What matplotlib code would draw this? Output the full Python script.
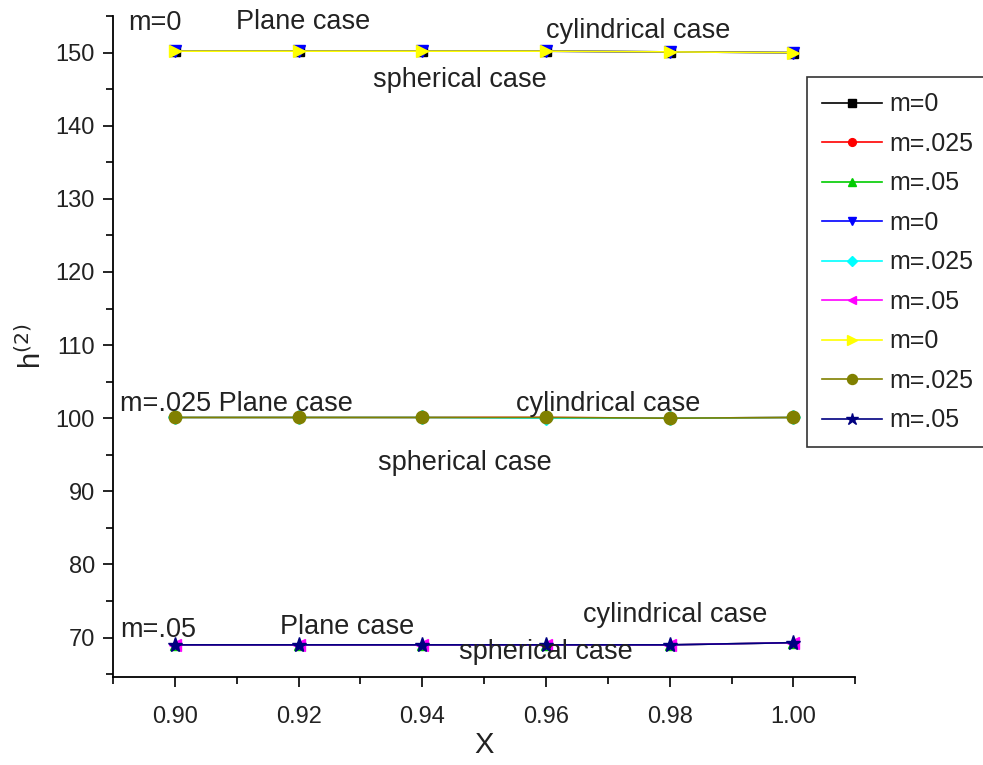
import matplotlib.pyplot as plt
from matplotlib.ticker import MultipleLocator

plt.rcParams['font.family'] = ['Liberation Sans', 'DejaVu Sans']

# --- data ---
x = [0.90, 0.92, 0.94, 0.96, 0.98, 1.00]

# plane case
plane_m0 = [150.2, 150.2, 150.2, 150.2, 150.1, 150.0]
plane_m025 = [100.1, 100.1, 100.1, 100.1, 100.0, 100.1]
plane_m05 = [69.0, 69.0, 69.0, 69.0, 69.0, 69.3]
# cylindrical case
cyl_m0 = [150.2, 150.2, 150.2, 150.2, 150.1, 150.0]
cyl_m025 = [100.1, 100.1, 100.1, 100.0, 100.0, 100.1]
cyl_m05 = [69.0, 69.0, 69.0, 69.0, 69.0, 69.3]
# spherical case
sph_m0 = [150.2, 150.2, 150.2, 150.2, 150.1, 150.0]
sph_m025 = [100.1, 100.1, 100.1, 100.1, 100.0, 100.1]
sph_m05 = [69.0, 69.0, 69.0, 69.0, 69.0, 69.3]

series = [
    (plane_m0, 'black', 's', 'm=0', 7),
    (plane_m025, 'red', 'o', 'm=.025', 7),
    (plane_m05, '#00cc00', '^', 'm=.05', 7),
    (cyl_m0, 'blue', 'v', 'm=0', 8),
    (cyl_m025, 'cyan', 'D', 'm=.025', 7),
    (cyl_m05, 'magenta', '<', 'm=.05', 8),
    (sph_m0, 'yellow', '>', 'm=0', 9),
    (sph_m025, '#808000', 'o', 'm=.025', 9),
    (sph_m05, '#000080', '*', 'm=.05', 11),
]

# annotations (text, x, y)
notes = [
    ('m=0', 0.8925, 154.0),
    ('Plane case', 0.9098, 154.2),
    ('cylindrical case', 0.9600, 153.0),
    ('spherical case', 0.9320, 146.3),
    ('m=.025 Plane case', 0.8912, 102.0),
    ('cylindrical case', 0.9552, 102.0),
    ('spherical case', 0.9328, 93.9),
    ('m=.05', 0.8912, 71.0),
    ('Plane case', 0.9170, 71.4),
    ('cylindrical case', 0.9660, 73.1),
    ('spherical case', 0.9460, 68.0),
]

fig = plt.figure(figsize=(9.83, 7.65), dpi=100)
ax = fig.add_axes([0.115, 0.115, 0.755, 0.864])

for ys, c, mk, lab, ms in series:
    ax.plot(x, ys, color=c, marker=mk, markersize=ms, linewidth=1.2,
            markeredgecolor=c, label=lab)

for t, tx, ty in notes:
    ax.text(tx, ty, t, fontsize=19.5, color='#222222', va='center')

ax.set_xlim(0.89, 1.01)
ax.set_ylim(64.6, 155)
ax.xaxis.set_minor_locator(MultipleLocator(0.01))
ax.yaxis.set_major_locator(MultipleLocator(10))
ax.yaxis.set_minor_locator(MultipleLocator(5))
ax.set_xticks([0.90, 0.92, 0.94, 0.96, 0.98, 1.00])
ax.set_xticklabels(['0.90', '0.92', '0.94', '0.96', '0.98', '1.00'])

for s in ['top', 'right']:
    ax.spines[s].set_visible(False)
for s in ['left', 'bottom']:
    ax.spines[s].set_linewidth(1.3)

ax.tick_params(which='major', direction='out', length=7, width=1.2,
               labelsize=17, colors='black')
ax.tick_params(axis='x', which='major', pad=14)
ax.tick_params(axis='y', which='major', pad=6)
ax.tick_params(which='minor', direction='out', length=5, width=1.2)
for lbl in ax.get_xticklabels() + ax.get_yticklabels():
    lbl.set_color('#222222')

ax.set_xlabel('X', fontsize=21, color='#222222', va='center')
ax.xaxis.set_label_coords(0.5, -0.103)
ax.set_ylabel('h$^{(2)}$', fontsize=21, labelpad=6, color='#222222')

leg = fig.legend(loc='upper left', bbox_to_anchor=(0.821, 0.899),
                 fontsize=18, frameon=True, fancybox=False, edgecolor='black',
                 handlelength=2.4, handletextpad=0.3, labelspacing=0.62,
                 borderpad=0.6, borderaxespad=0, markerscale=0.8)
leg.get_frame().set_linewidth(1.2)
for t in leg.get_texts():
    t.set_color('#222222')

plt.savefig('out.png', dpi=100)
